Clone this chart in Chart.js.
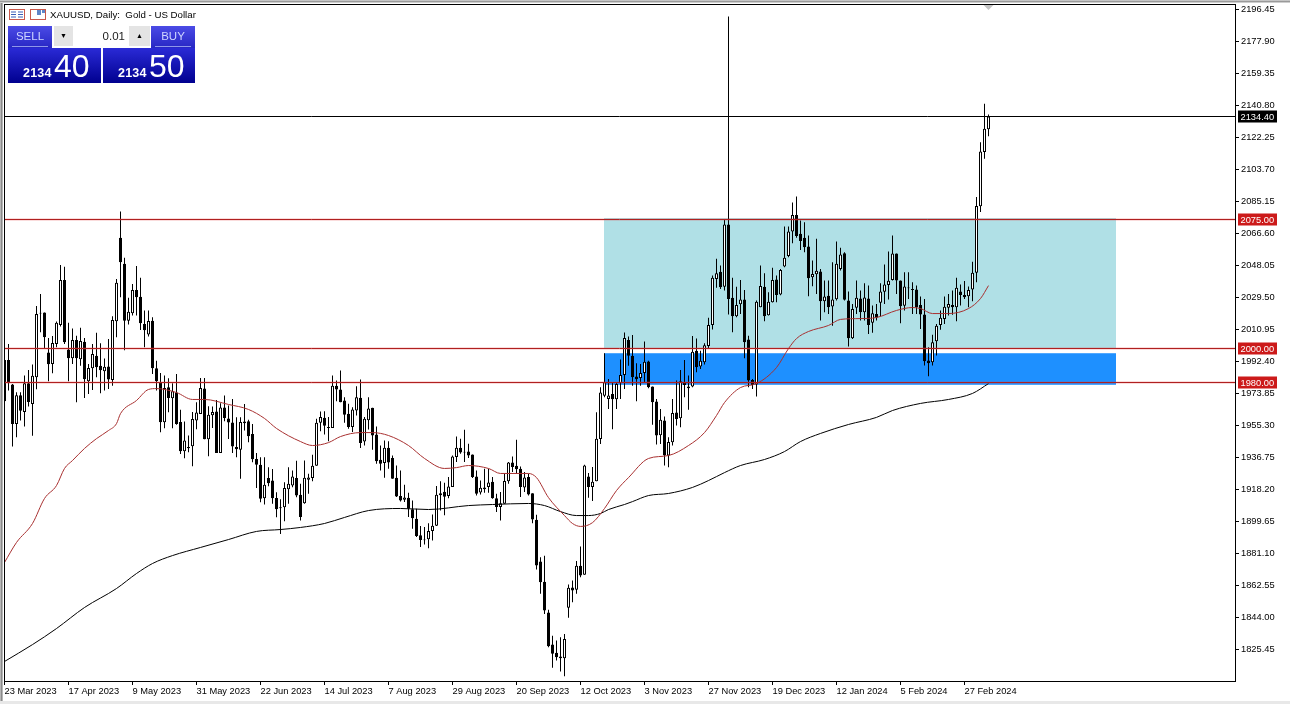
<!DOCTYPE html>
<html>
<head>
<meta charset="utf-8">
<script src="https://cdn.jsdelivr.net/npm/chart.js@4"></script>
<style>
html,body{margin:0;padding:0;background:#fff;width:1290px;height:704px;overflow:hidden}
body{position:relative;font-family:"Liberation Sans",Arial,sans-serif}
#frameL{position:absolute;left:0;top:0;width:3px;height:704px;background:linear-gradient(90deg,#f0f0f0 0,#8a8a8a 30%,#8a8a8a 70%,#f0f0f0 100%)}
#frameT{position:absolute;left:0;top:0;width:1290px;height:3px;background:linear-gradient(180deg,#f0f0f0 0,#8a8a8a 40%,#e8e8e8 100%)}
#frameB{position:absolute;left:0;top:701px;width:1290px;height:3px;background:#e8e8e8}
canvas{position:absolute;left:0;top:0}
.abs{position:absolute;box-sizing:border-box}
#title{left:50px;top:9px;font-size:9.7px;line-height:12px;color:#000;white-space:pre}
.hdr{background:linear-gradient(180deg,#4b4be6,#2727c4);color:#cfd6ff;font-size:11.5px;text-align:center;line-height:20px;height:22px;top:26px}
.hdr i{position:absolute;left:4px;right:4px;bottom:1px;height:1px;background:#8f97ea}
.big{top:48px;height:35px;background:linear-gradient(180deg,#2a2ad6,#00008f);color:#fff}
.big b{position:absolute;left:15px;top:18px;font-size:12.5px;line-height:14px;letter-spacing:.2px}
.big span{position:absolute;left:46px;top:1px;font-size:32px;line-height:34px;font-weight:400}
.spin{top:26px;height:20px;background:#e4e4e4;text-align:center}
</style>
</head>
<body>
<canvas id="c" width="1290" height="704"></canvas>
<div id="frameL" class="abs"></div><div id="frameT" class="abs"></div><div id="frameB" class="abs"></div>

<svg class="abs" style="left:9px;top:9px" width="38" height="12" viewBox="0 0 38 12">
<rect x=".5" y=".5" width="15" height="10" fill="#fff" stroke="#c9584a"/>
<path d="M2 3h5M2 5.5h5M2 8h5M9 3h5M9 5.5h5M9 8h5" stroke="#3a5fb8" stroke-width="1"/>
<rect x="21.5" y=".5" width="15" height="10" fill="#fff" stroke="#c9584a"/>
<rect x="28" y="1" width="4" height="5" fill="#5f86c8"/><rect x="33" y="1" width="3" height="3" fill="#5f86c8"/>
</svg>
<div id="title" class="abs">XAUUSD, Daily:  Gold - US Dollar</div>

<div class="abs hdr" style="left:8px;width:44px">SELL<i></i></div>
<div class="abs hdr" style="left:151px;width:44px">BUY<i></i></div>
<div class="abs spin" style="left:54px;width:19px;font-size:7px;line-height:19px;color:#000">&#9660;</div>
<div class="abs" style="left:73px;top:26px;width:56px;height:20px;background:#fff;font-size:11.5px;line-height:20px;text-align:right;padding-right:4px;color:#222">0.01</div>
<div class="abs spin" style="left:129px;width:21px;font-size:7px;line-height:19px;color:#000">&#9650;</div>
<div class="abs big" style="left:8px;width:93px"><b>2134</b><span>40</span></div>
<div class="abs big" style="left:103px;width:92px"><b>2134</b><span>50</span></div>

<script>
const opens=[1993.3,1993.3,1979.0,1956.2,1972.9,1963.2,1979.8,1967.8,1983.3,2020.6,
2020.8,1997.6,1991.0,2002.6,2013.6,2039.7,1999.3,1994.3,2004.9,1993.7,
2003.8,1981.0,1988.5,1995.8,1989.9,1986.8,1989.5,1981.7,2015.7,2064.1,
2049.0,2016.1,2020.4,2033.9,2029.9,2014.2,2008.0,2016.1,1988.5,1980.4,
1957.2,1977.5,1971.1,1974.4,1957.4,1940.4,1942.9,1943.3,1958.2,1962.0,
1976.7,1947.3,1961.3,1963.4,1939.4,1965.7,1959.3,1957.0,1942.9,1941.2,
1957.6,1957.8,1950.4,1935.9,1932.5,1913.2,1924.9,1923.4,1913.3,1907.9,
1907.9,1918.4,1920.5,1924.9,1915.1,1910.3,1923.8,1924.8,1931.9,1956.9,
1959.8,1954.5,1953.8,1978.3,1976.2,1969.8,1962.1,1954.4,1964.0,1971.4,
1946.0,1958.4,1965.6,1950.1,1935.4,1933.5,1942.4,1936.4,1925.0,1914.5,
1912.2,1913.4,1906.8,1901.2,1891.7,1889.2,1889.4,1894.1,1897.2,1914.9,
1916.9,1914.5,1919.6,1937.0,1942.4,1940.1,1940.2,1938.5,1925.8,1916.5,
1919.4,1919.6,1922.7,1913.2,1908.0,1909.9,1923.0,1933.9,1931.9,1930.2,
1919.4,1925.4,1916.1,1900.6,1876.5,1864.7,1846.9,1828.4,1823.5,1821.4,
1820.4,1849.6,1861.4,1860.1,1874.0,1868.8,1925.8,1919.6,1923.0,1947.5,
1972.5,1970.7,1973.6,1970.5,1979.8,1984.6,2004.9,1995.7,1983.7,1982.9,
1985.8,1992.4,1977.9,1969.2,1949.7,1958.2,1937.9,1945.6,1962.8,1959.5,
1980.4,1977.9,1977.9,1998.6,1989.5,1992.0,2001.4,2013.6,2040.3,2044.5,
2035.8,2071.8,2029.3,2018.6,2025.6,2028.3,2005.1,1981.7,1979.0,2023.9,
2035.8,2019.2,2026.8,2039.9,2031.2,2047.5,2053.5,2067.8,2077.4,2066.4,
2064.1,2059.1,2041.3,2043.0,2044.6,2027.4,2030.5,2024.3,2028.5,2046.1,
2055.2,2027.8,2005.9,2023.5,2028.9,2021.0,2028.9,2014.8,2020.0,2026.4,
2032.8,2036.8,2039.7,2055.0,2039.4,2024.7,2035.3,2034.5,2034.1,2025.2,
2019.6,1993.0,1992.0,2004.2,2013.5,2017.1,2023.5,2025.2,2023.9,2033.0,
2031.0,2030.3,2034.1,2043.8,2082.4,2113.8,2127.1];
const closes=[1969.4,1979.8,1956.2,1972.9,1963.9,1979.8,1969.0,1984.1,2020.0,2020.2,
2006.5,1990.8,2003.2,2014.8,2039.7,2003.6,1994.3,2004.9,1994.3,2004.3,
1982.1,1988.7,1996.8,1989.1,1987.3,1989.3,1981.9,2016.5,2038.0,2049.9,
2016.1,2021.2,2033.9,2029.7,2014.6,2010.5,2015.9,1988.5,1981.0,1957.2,
1977.1,1971.3,1975.2,1956.2,1940.4,1946.6,1942.1,1959.1,1962.8,1977.1,
1947.3,1961.6,1963.2,1939.4,1965.7,1959.7,1957.0,1943.1,1941.5,1957.4,
1956.6,1949.1,1935.7,1932.5,1912.8,1920.9,1921.8,1913.2,1906.8,1907.4,
1919.1,1921.5,1925.7,1914.7,1902.2,1925.0,1925.2,1931.9,1956.9,1960.2,
1955.1,1953.8,1978.3,1976.2,1968.8,1961.5,1954.4,1964.6,1971.7,1945.1,
1959.2,1965.2,1949.5,1934.6,1933.1,1942.4,1933.9,1924.4,1914.2,1911.8,
1913.6,1907.0,1901.6,1891.2,1889.0,1888.8,1894.1,1897.2,1915.1,1916.1,
1914.0,1920.0,1937.3,1942.4,1939.7,1939.7,1937.9,1925.4,1915.7,1919.2,
1918.4,1922.3,1913.2,1908.0,1910.3,1923.2,1933.9,1931.2,1930.0,1919.6,
1925.2,1915.3,1900.8,1874.2,1864.5,1848.1,1827.4,1823.0,1821.0,1820.4,
1831.6,1861.2,1859.7,1874.0,1868.4,1932.1,1919.6,1922.7,1947.6,1974.4,
1980.4,1972.7,1970.5,1979.4,1984.6,2006.1,1995.7,1983.3,1982.1,1985.8,
1992.2,1977.5,1968.8,1949.5,1958.6,1937.9,1945.8,1962.6,1959.1,1981.0,
1978.8,1976.9,1998.0,1989.1,1992.8,2001.8,2013.6,2040.9,2043.6,2035.5,
2071.8,2028.7,2018.6,2025.2,2028.3,2003.6,1981.4,1978.8,2027.1,2036.2,
2018.6,2027.0,2039.7,2031.0,2045.5,2052.5,2067.8,2077.4,2065.1,2062.2,
2058.7,2040.7,2043.2,2045.0,2027.4,2030.1,2023.9,2028.3,2049.0,2054.4,
2028.2,2005.9,2022.9,2029.3,2021.0,2029.5,2013.5,2020.4,2017.7,2033.0,
2037.0,2039.2,2055.0,2039.4,2024.5,2035.9,2034.9,2033.8,2023.9,2019.6,
1992.6,1991.4,2003.6,2013.1,2017.7,2024.1,2025.8,2023.9,2035.1,2030.9,
2029.7,2033.9,2043.8,2082.6,2114.1,2127.3,2134.4];
const highs=[1994.9,2002.6,1979.4,1974.6,1974.6,1984.3,1987.5,1990.6,2024.6,2031.6,
2020.8,2006.1,2007.2,2015.6,2048.4,2047.4,2014.8,2011.5,2007.4,2011.9,
2006.1,1991.0,2002.6,2009.0,2003.0,1994.1,2005.5,2018.6,2040.3,2079.3,
2052.5,2029.3,2037.4,2047.8,2040.9,2021.9,2021.9,2018.1,1992.9,1985.8,
1984.3,1982.7,1979.8,1985.2,1964.4,1957.6,1949.5,1963.2,1968.8,1982.9,
1982.9,1966.5,1966.3,1970.1,1968.2,1972.7,1966.9,1970.7,1960.1,1960.1,
1967.8,1958.6,1956.2,1939.4,1936.9,1936.9,1931.1,1930.1,1916.6,1912.6,
1922.4,1931.1,1929.2,1934.9,1921.5,1935.0,1927.3,1938.3,1959.2,1963.4,
1963.6,1960.2,1984.3,1981.4,1987.2,1971.7,1967.9,1965.9,1978.1,1982.0,
1960.2,1971.7,1965.6,1954.7,1943.7,1946.6,1946.2,1937.9,1932.1,1929.2,
1920.9,1916.3,1911.8,1907.0,1897.0,1896.4,1898.7,1903.7,1920.2,1923.0,
1922.1,1925.4,1937.9,1948.9,1947.6,1952.8,1944.7,1938.5,1929.2,1923.4,
1930.2,1930.2,1925.4,1915.7,1916.7,1927.3,1934.1,1937.4,1947.0,1931.6,
1928.3,1927.3,1916.1,1903.5,1879.0,1879.8,1848.5,1833.4,1830.7,1832.6,
1834.5,1863.1,1865.5,1876.7,1885.2,1932.5,1927.7,1931.2,1963.0,1977.5,
1997.2,1982.3,1980.4,1980.4,1993.5,2009.2,2006.9,2007.8,1991.4,1991.0,
2004.0,1992.9,1977.9,1970.7,1964.9,1960.5,1948.5,1970.7,1981.4,1987.5,
1993.3,1984.3,2007.2,2005.7,1998.7,2003.0,2017.7,2042.2,2051.9,2048.0,
2074.9,2192.4,2040.9,2035.8,2039.7,2033.9,2007.4,1982.3,2027.7,2048.0,
2043.6,2032.6,2046.7,2042.2,2046.1,2070.7,2070.7,2084.6,2088.1,2074.1,
2073.2,2065.4,2050.9,2063.5,2046.1,2039.4,2039.4,2050.0,2062.0,2058.3,
2055.8,2033.0,2025.8,2039.4,2033.6,2037.8,2036.5,2024.9,2025.8,2037.8,
2048.6,2056.2,2065.4,2055.0,2039.4,2044.2,2044.2,2038.4,2036.5,2030.1,
2028.7,2000.7,2007.9,2014.2,2022.0,2030.1,2031.6,2033.6,2040.9,2037.0,
2039.0,2035.9,2050.2,2087.7,2119.5,2141.8,2135.6];
const lows=[1967.8,1975.6,1943.1,1948.5,1958.2,1954.7,1966.3,1949.3,1976.3,2009.4,
2000.3,1981.0,1985.6,2000.7,2012.7,2002.6,1981.0,1991.0,1968.8,1990.0,
1971.3,1973.6,1975.9,1983.3,1974.0,1975.6,1976.5,1978.3,2006.5,2029.7,
1998.9,2013.8,2019.0,2019.0,2010.7,2000.7,2006.9,1985.2,1975.6,1951.4,
1953.7,1963.0,1953.7,1955.8,1938.8,1936.3,1939.8,1931.7,1953.1,1962.0,
1947.3,1937.5,1953.9,1939.4,1939.4,1957.8,1947.5,1939.4,1936.9,1924.4,
1952.4,1945.6,1934.0,1919.1,1910.8,1909.5,1920.1,1909.9,1902.1,1892.4,
1899.8,1909.9,1919.5,1913.7,1900.2,1909.9,1915.7,1923.0,1931.9,1952.0,
1950.1,1946.2,1953.8,1969.4,1968.8,1956.9,1953.4,1951.5,1961.1,1942.2,
1943.7,1953.0,1941.2,1933.1,1929.2,1925.0,1930.2,1924.4,1913.8,1911.3,
1910.9,1902.2,1895.4,1890.6,1884.8,1886.3,1884.2,1888.7,1897.0,1906.0,
1903.3,1913.2,1919.6,1934.1,1938.9,1934.1,1936.4,1924.8,1914.7,1915.3,
1916.3,1916.3,1912.8,1905.1,1900.2,1909.9,1921.5,1928.3,1927.3,1913.8,
1916.7,1914.7,1898.7,1871.8,1857.7,1846.1,1826.8,1814.8,1819.1,1812.7,
1810.0,1843.8,1852.9,1857.7,1867.4,1868.8,1913.4,1911.5,1923.0,1944.6,
1971.7,1964.9,1953.1,1964.9,1970.7,1976.5,1990.0,1978.3,1969.4,1978.3,
1980.4,1976.9,1955.8,1944.3,1944.6,1932.1,1931.1,1943.7,1955.3,1954.3,
1971.7,1964.5,1977.5,1986.2,1988.1,1990.6,2000.1,2010.9,2035.1,2034.5,
2033.5,2019.6,2009.4,2018.1,2020.0,1994.3,1977.5,1976.5,1972.1,2023.9,
2015.7,2019.0,2026.6,2026.8,2030.8,2047.1,2052.9,2061.0,2064.1,2057.1,
2055.8,2030.3,2036.1,2031.6,2016.2,2021.0,2020.0,2013.1,2027.8,2045.2,
2027.8,2001.1,2005.5,2020.0,2016.2,2016.2,2008.4,2009.0,2016.2,2018.7,
2025.8,2028.3,2039.4,2031.6,2014.6,2022.0,2028.7,2020.0,2020.0,2011.3,
1990.1,1983.9,1990.1,1995.9,2010.8,2014.2,2019.1,2019.5,2015.8,2024.9,
2028.7,2023.9,2027.4,2038.4,2079.0,2109.9,2123.0];

const maFastBars=[0,3,7,10,13,15,17,20,23,26,28,29,33,36,38,43,47,50,56,61,65,68,74,77,81,84,89,92,96,101,105,110,113,116,121,124,131,133,136,140,142,144,147,150,153,156,161,166,171,175,178,180,184,188,193,196,198,201,206,209,214,218,223,227,229,232,236,241,244,246];
const maFastValues=[1875.9,1887.5,1898.5,1913,1920.5,1930.4,1935,1942,1947.7,1952.4,1956.4,1962.2,1969.8,1976.2,1976.7,1974.4,1970.4,1970.4,1967.5,1964.6,1959.4,1953.6,1946,1943.7,1945.4,1948.9,1951.2,1951.2,1949.5,1943.7,1936.2,1930.4,1930.9,1932.1,1930.4,1927.5,1927.5,1925.1,1913.5,1903.1,1898.5,1896.8,1899,1907.2,1917.6,1925.1,1936.2,1937.9,1943.7,1951.2,1961.1,1968.6,1977.3,1979.6,1988.9,1999.9,2005.7,2009.8,2013.3,2016.8,2017.3,2017.9,2022,2023.7,2023.1,2020.2,2020.2,2023.1,2028.9,2036.4];
const maSlowBars=[0,7,13,20,28,33,37,42,49,56,63,69,74,80,85,91,99,106,116,122,131,135,139,143,146,149,151,155,157,161,166,172,176,180,184,190,195,199,204,211,218,222,229,236,242,246];
const maSlowValues=[1818.5,1828.3,1837.6,1849.8,1860.8,1869.5,1875.3,1879.9,1884.6,1889.2,1893.9,1895,1896.2,1898.5,1902,1906,1907.2,1906.6,1908.9,1909.5,1910.1,1908.9,1905.4,1903.1,1903.1,1904.3,1906.6,1909.5,1911.2,1914.7,1915.9,1919.4,1923.4,1928,1932.1,1935.6,1940.2,1946,1950.7,1955.9,1960,1964,1968.1,1970.4,1973.9,1979.6];

const levelPrices=[2075,2000,1980];
const lastPrice=2134.4;
const priceTicks=[2196.45,2177.90,2159.35,2140.80,2122.25,2103.70,2085.15,2066.60,2048.05,2029.50,2010.95,1992.40,1973.85,1955.30,1936.75,1918.20,1899.65,1881.10,1862.55,1844.00,1825.45];
const dateTickBars=[0,16,32,48,64,80,96,112,128,144,160,176,192,208,224,240];
const dateTickLabels=['23 Mar 2023','17 Apr 2023','9 May 2023','31 May 2023','22 Jun 2023','14 Jul 2023','7 Aug 2023','29 Aug 2023','20 Sep 2023','12 Oct 2023','3 Nov 2023','27 Nov 2023','19 Dec 2023','12 Jan 2024','5 Feb 2024','27 Feb 2024'];
const zoneStart=150, zoneEnd=278;
const upperZone=[2075.6,2000];
const lowerZone=[1997.2,1978.9];

const FONT='"Liberation Sans", Arial, sans-serif';
const AXIS_SIZE=9.3;
const RED='#b02020';
const bars=opens.map((_,i)=>i);
const xMin=-0.125,xMax=307.625;

const decor={
  id:'decor',
  beforeDatasetsDraw(ch){
    const {ctx,scales:{x,y}}=ch;
    const box=(z,c)=>{
      ctx.fillStyle=c;
      const l=x.getPixelForValue(zoneStart)-.5,r=x.getPixelForValue(zoneEnd)-.5;
      const t=y.getPixelForValue(z[0]),b=y.getPixelForValue(z[1]);
      ctx.fillRect(l,t,r-l,b-t);
    };
    ctx.save();
    box(upperZone,'#b0e0e6');
    box(lowerZone,'#1e90ff');
    ctx.restore();
  },
  afterDatasetsDraw(ch){
    const {ctx,scales:{y},chartArea:a}=ch;
    ctx.save();
    const hl=(v,c,w)=>{
      const py=Math.floor(y.getPixelForValue(v)+.1)+.5;
      ctx.lineWidth=w;ctx.strokeStyle=c;ctx.beginPath();ctx.moveTo(a.left,py);ctx.lineTo(a.right,py);ctx.stroke();
    };
    levelPrices.forEach(v=>hl(v,'rgba(225,60,60,0.18)',3));
    levelPrices.forEach(v=>hl(v,RED,1));
    hl(lastPrice,'#000',1);
    ctx.restore();
  },
  afterDraw(ch){
    const {ctx,scales:{x,y},chartArea:a}=ch;
    ctx.save();
    ctx.strokeStyle='#000';ctx.lineWidth=1;
    ctx.strokeRect(a.left+.5,a.top+.5,a.right-a.left,a.bottom-a.top);
    ctx.font=AXIS_SIZE+'px '+FONT;ctx.textBaseline='middle';ctx.textAlign='left';
    const badge=(v,bg)=>{
      const py=Math.floor(y.getPixelForValue(v)+.1);
      ctx.fillStyle=bg;ctx.fillRect(a.right+3,py-5.5,39,12);
      ctx.fillStyle='#fff';ctx.fillText(v.toFixed(2),a.right+5.5,py+1);
    };
    badge(lastPrice,'#000');
    levelPrices.forEach(v=>badge(v,'#cc1a1a'));
    const mx=x.getPixelForValue(bars[bars.length-1]);
    ctx.fillStyle='#c4c4c4';ctx.beginPath();ctx.moveTo(mx-5,a.top+1);ctx.lineTo(mx+5,a.top+1);ctx.lineTo(mx,a.top+6);ctx.closePath();ctx.fill();
    ctx.restore();
  }
};

const ma=(xs,ys,c,o)=>({type:'line',data:xs.map((v,i)=>({x:v,y:ys[i]})),borderColor:c,borderWidth:1,pointRadius:0,order:o,cubicInterpolationMode:'monotone'});

new Chart(document.getElementById('c'),{
  type:'bar',
  data:{datasets:[
    ma(maFastBars,maFastValues,'#a83030',2),
    ma(maSlowBars,maSlowValues,'#000',2),
    {type:'bar',grouped:false,data:bars.map(i=>({x:i,y:[opens[i],closes[i]]})),
     backgroundColor:bars.map(i=>closes[i]>=opens[i]?'#fff':'#000'),borderColor:'#000',borderWidth:1,borderSkipped:false,inflateAmount:0,barThickness:3,order:3},
    {type:'bar',grouped:false,data:bars.map(i=>({x:i,y:[lows[i],highs[i]]})),
     backgroundColor:'#000',borderWidth:0,inflateAmount:0,barThickness:1,order:4}
  ]},
  options:{
    responsive:false,animation:false,devicePixelRatio:1,
    layout:{autoPadding:false,padding:{left:4,top:4,right:0,bottom:0}},
    plugins:{legend:{display:false},tooltip:{enabled:false}},
    scales:{
      x:{type:'linear',position:'bottom',min:xMin,max:xMax,offset:false,
        afterFit(s){s.height=23;s.paddingLeft=0;s.paddingRight=0;s.paddingTop=0;s.paddingBottom=0;},
        afterBuildTicks(s){s.ticks=dateTickBars.map(v=>({value:v}));},
        afterTickToLabelConversion(s){s.ticks.forEach((t,i)=>{t.label=dateTickLabels[i];});},
        grid:{drawOnChartArea:false,drawTicks:true,tickLength:4,tickColor:'#000',offset:false},
        border:{display:true,color:'#000',width:1},
        ticks:{autoSkip:false,maxRotation:0,minRotation:0,align:'start',padding:1,color:'#000',font:{family:FONT,size:AXIS_SIZE},includeBounds:false}
      },
      y:{type:'linear',position:'right',min:1807.19,max:2199.65,
        afterFit(s){s.width=55;s.paddingLeft=0;s.paddingRight=0;s.paddingTop=0;s.paddingBottom=0;},
        afterBuildTicks(s){s.ticks=priceTicks.map(v=>({value:v}));},
        afterTickToLabelConversion(s){s.ticks.forEach(t=>{t.label=t.value.toFixed(2);});},
        grid:{drawOnChartArea:false,drawTicks:true,tickLength:4,tickColor:'#000'},
        border:{display:true,color:'#000',width:1},
        ticks:{autoSkip:false,padding:2,color:'#000',font:{family:FONT,size:AXIS_SIZE},align:'center'}
      }
    }
  },
  plugins:[decor]
});
</script>
</body>
</html>
